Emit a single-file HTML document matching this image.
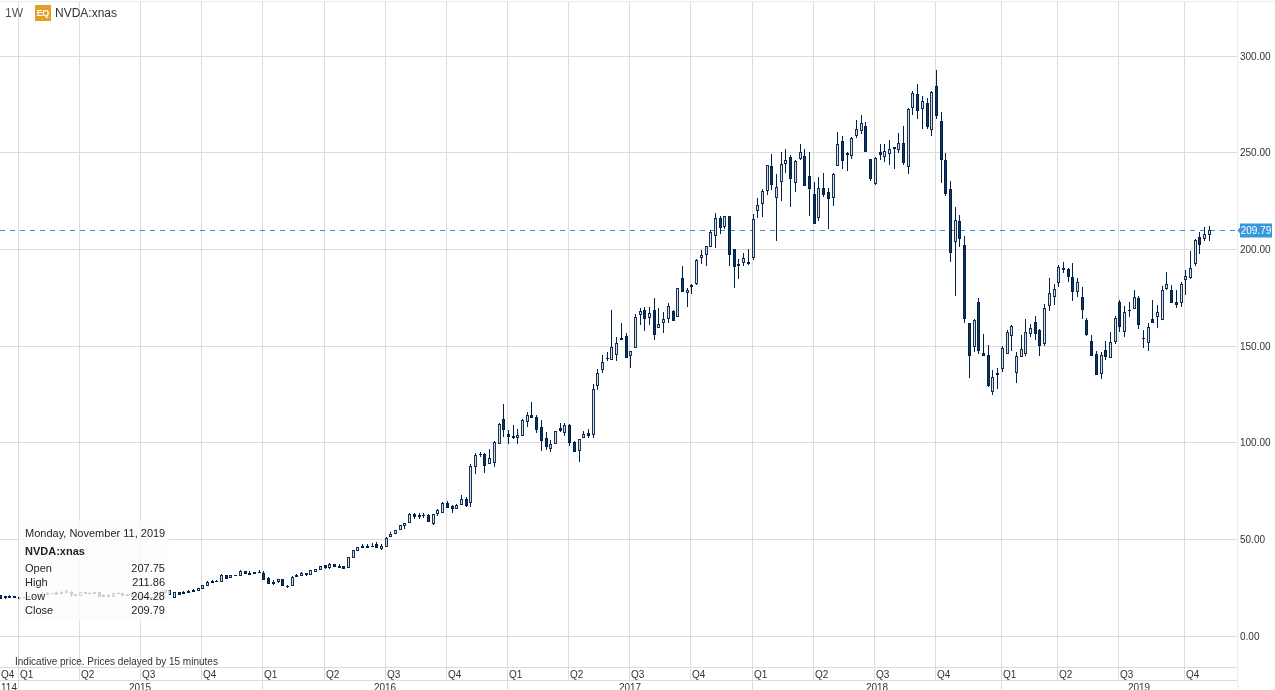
<!DOCTYPE html>
<html><head><meta charset="utf-8">
<style>
html,body{margin:0;padding:0;background:#fff;}
.ax,.ya,.lg,.bt{will-change:transform;}
body{width:1275px;height:690px;position:relative;overflow:hidden;font-family:"Liberation Sans",sans-serif;}
svg{position:absolute;left:0;top:0;shape-rendering:crispEdges;}
.ax{position:absolute;font-size:10px;line-height:13px;color:#333;white-space:nowrap;}
.yr{width:60px;text-align:center;}
.ya{position:absolute;left:1240px;font-size:10px;line-height:12px;color:#333;white-space:nowrap;}
.lg{position:absolute;white-space:nowrap;}
.box{position:absolute;left:19px;top:520px;width:150px;height:101px;background:rgba(253,253,253,0.8);}
.bt{position:absolute;font-size:11px;line-height:13px;color:#222;white-space:nowrap;text-shadow:0 0 2px #fff,0 0 2px #fff;}
.r{text-align:right;width:60px;}
</style></head><body>
<svg width="1275" height="690" viewBox="0 0 1275 690">
<rect x="0" y="1" width="1275" height="1" fill="#ebebeb"/>
<rect x="0" y="56" width="1237" height="1" fill="#dcdcdc"/>
<rect x="0" y="152" width="1237" height="1" fill="#dcdcdc"/>
<rect x="0" y="249" width="1237" height="1" fill="#dcdcdc"/>
<rect x="0" y="346" width="1237" height="1" fill="#dcdcdc"/>
<rect x="0" y="442" width="1237" height="1" fill="#dcdcdc"/>
<rect x="0" y="539" width="1237" height="1" fill="#dcdcdc"/>
<rect x="0" y="636" width="1237" height="1" fill="#dcdcdc"/>
<rect x="18" y="2" width="1" height="678" fill="#dcdcdc"/>
<rect x="79" y="2" width="1" height="678" fill="#dcdcdc"/>
<rect x="140" y="2" width="1" height="678" fill="#dcdcdc"/>
<rect x="201" y="2" width="1" height="678" fill="#dcdcdc"/>
<rect x="262" y="2" width="1" height="678" fill="#dcdcdc"/>
<rect x="324" y="2" width="1" height="678" fill="#dcdcdc"/>
<rect x="385" y="2" width="1" height="678" fill="#dcdcdc"/>
<rect x="446" y="2" width="1" height="678" fill="#dcdcdc"/>
<rect x="507" y="2" width="1" height="678" fill="#dcdcdc"/>
<rect x="568" y="2" width="1" height="678" fill="#dcdcdc"/>
<rect x="629" y="2" width="1" height="678" fill="#dcdcdc"/>
<rect x="690" y="2" width="1" height="678" fill="#dcdcdc"/>
<rect x="752" y="2" width="1" height="678" fill="#dcdcdc"/>
<rect x="813" y="2" width="1" height="678" fill="#dcdcdc"/>
<rect x="874" y="2" width="1" height="678" fill="#dcdcdc"/>
<rect x="935" y="2" width="1" height="678" fill="#dcdcdc"/>
<rect x="1001" y="2" width="1" height="678" fill="#dcdcdc"/>
<rect x="1057" y="2" width="1" height="678" fill="#dcdcdc"/>
<rect x="1118" y="2" width="1" height="678" fill="#dcdcdc"/>
<rect x="1184" y="2" width="1" height="678" fill="#dcdcdc"/>
<rect x="18" y="680" width="1" height="10" fill="#dcdcdc"/>
<rect x="262" y="680" width="1" height="10" fill="#dcdcdc"/>
<rect x="507" y="680" width="1" height="10" fill="#dcdcdc"/>
<rect x="752" y="680" width="1" height="10" fill="#dcdcdc"/>
<rect x="1001" y="680" width="1" height="10" fill="#dcdcdc"/>
<rect x="0" y="667" width="1237" height="1" fill="#dcdcdc"/>
<rect x="0" y="680" width="1237" height="1" fill="#dcdcdc"/>
<rect x="1237" y="2" width="1" height="688" fill="#ececec"/>
<rect x="0" y="230" width="5" height="1" fill="#2b91d9"/>
<rect x="10" y="230" width="5" height="1" fill="#2b91d9"/>
<rect x="20" y="230" width="5" height="1" fill="#2b91d9"/>
<rect x="30" y="230" width="5" height="1" fill="#2b91d9"/>
<rect x="40" y="230" width="5" height="1" fill="#2b91d9"/>
<rect x="50" y="230" width="5" height="1" fill="#2b91d9"/>
<rect x="60" y="230" width="5" height="1" fill="#2b91d9"/>
<rect x="70" y="230" width="5" height="1" fill="#2b91d9"/>
<rect x="80" y="230" width="5" height="1" fill="#2b91d9"/>
<rect x="90" y="230" width="5" height="1" fill="#2b91d9"/>
<rect x="100" y="230" width="5" height="1" fill="#2b91d9"/>
<rect x="110" y="230" width="5" height="1" fill="#2b91d9"/>
<rect x="120" y="230" width="5" height="1" fill="#2b91d9"/>
<rect x="130" y="230" width="5" height="1" fill="#2b91d9"/>
<rect x="140" y="230" width="5" height="1" fill="#2b91d9"/>
<rect x="150" y="230" width="5" height="1" fill="#2b91d9"/>
<rect x="160" y="230" width="5" height="1" fill="#2b91d9"/>
<rect x="170" y="230" width="5" height="1" fill="#2b91d9"/>
<rect x="180" y="230" width="5" height="1" fill="#2b91d9"/>
<rect x="190" y="230" width="5" height="1" fill="#2b91d9"/>
<rect x="200" y="230" width="5" height="1" fill="#2b91d9"/>
<rect x="210" y="230" width="5" height="1" fill="#2b91d9"/>
<rect x="220" y="230" width="5" height="1" fill="#2b91d9"/>
<rect x="230" y="230" width="5" height="1" fill="#2b91d9"/>
<rect x="240" y="230" width="5" height="1" fill="#2b91d9"/>
<rect x="250" y="230" width="5" height="1" fill="#2b91d9"/>
<rect x="260" y="230" width="5" height="1" fill="#2b91d9"/>
<rect x="270" y="230" width="5" height="1" fill="#2b91d9"/>
<rect x="280" y="230" width="5" height="1" fill="#2b91d9"/>
<rect x="290" y="230" width="5" height="1" fill="#2b91d9"/>
<rect x="300" y="230" width="5" height="1" fill="#2b91d9"/>
<rect x="310" y="230" width="5" height="1" fill="#2b91d9"/>
<rect x="320" y="230" width="5" height="1" fill="#2b91d9"/>
<rect x="330" y="230" width="5" height="1" fill="#2b91d9"/>
<rect x="340" y="230" width="5" height="1" fill="#2b91d9"/>
<rect x="350" y="230" width="5" height="1" fill="#2b91d9"/>
<rect x="360" y="230" width="5" height="1" fill="#2b91d9"/>
<rect x="370" y="230" width="5" height="1" fill="#2b91d9"/>
<rect x="380" y="230" width="5" height="1" fill="#2b91d9"/>
<rect x="390" y="230" width="5" height="1" fill="#2b91d9"/>
<rect x="400" y="230" width="5" height="1" fill="#2b91d9"/>
<rect x="410" y="230" width="5" height="1" fill="#2b91d9"/>
<rect x="420" y="230" width="5" height="1" fill="#2b91d9"/>
<rect x="430" y="230" width="5" height="1" fill="#2b91d9"/>
<rect x="440" y="230" width="5" height="1" fill="#2b91d9"/>
<rect x="450" y="230" width="5" height="1" fill="#2b91d9"/>
<rect x="460" y="230" width="5" height="1" fill="#2b91d9"/>
<rect x="470" y="230" width="5" height="1" fill="#2b91d9"/>
<rect x="480" y="230" width="5" height="1" fill="#2b91d9"/>
<rect x="490" y="230" width="5" height="1" fill="#2b91d9"/>
<rect x="500" y="230" width="5" height="1" fill="#2b91d9"/>
<rect x="510" y="230" width="5" height="1" fill="#2b91d9"/>
<rect x="520" y="230" width="5" height="1" fill="#2b91d9"/>
<rect x="530" y="230" width="5" height="1" fill="#2b91d9"/>
<rect x="540" y="230" width="5" height="1" fill="#2b91d9"/>
<rect x="550" y="230" width="5" height="1" fill="#2b91d9"/>
<rect x="560" y="230" width="5" height="1" fill="#2b91d9"/>
<rect x="570" y="230" width="5" height="1" fill="#2b91d9"/>
<rect x="580" y="230" width="5" height="1" fill="#2b91d9"/>
<rect x="590" y="230" width="5" height="1" fill="#2b91d9"/>
<rect x="600" y="230" width="5" height="1" fill="#2b91d9"/>
<rect x="610" y="230" width="5" height="1" fill="#2b91d9"/>
<rect x="620" y="230" width="5" height="1" fill="#2b91d9"/>
<rect x="630" y="230" width="5" height="1" fill="#2b91d9"/>
<rect x="640" y="230" width="5" height="1" fill="#2b91d9"/>
<rect x="650" y="230" width="5" height="1" fill="#2b91d9"/>
<rect x="660" y="230" width="5" height="1" fill="#2b91d9"/>
<rect x="670" y="230" width="5" height="1" fill="#2b91d9"/>
<rect x="680" y="230" width="5" height="1" fill="#2b91d9"/>
<rect x="690" y="230" width="5" height="1" fill="#2b91d9"/>
<rect x="700" y="230" width="5" height="1" fill="#2b91d9"/>
<rect x="710" y="230" width="5" height="1" fill="#2b91d9"/>
<rect x="720" y="230" width="5" height="1" fill="#2b91d9"/>
<rect x="730" y="230" width="5" height="1" fill="#2b91d9"/>
<rect x="740" y="230" width="5" height="1" fill="#2b91d9"/>
<rect x="750" y="230" width="5" height="1" fill="#2b91d9"/>
<rect x="760" y="230" width="5" height="1" fill="#2b91d9"/>
<rect x="770" y="230" width="5" height="1" fill="#2b91d9"/>
<rect x="780" y="230" width="5" height="1" fill="#2b91d9"/>
<rect x="790" y="230" width="5" height="1" fill="#2b91d9"/>
<rect x="800" y="230" width="5" height="1" fill="#2b91d9"/>
<rect x="810" y="230" width="5" height="1" fill="#2b91d9"/>
<rect x="820" y="230" width="5" height="1" fill="#2b91d9"/>
<rect x="830" y="230" width="5" height="1" fill="#2b91d9"/>
<rect x="840" y="230" width="5" height="1" fill="#2b91d9"/>
<rect x="850" y="230" width="5" height="1" fill="#2b91d9"/>
<rect x="860" y="230" width="5" height="1" fill="#2b91d9"/>
<rect x="870" y="230" width="5" height="1" fill="#2b91d9"/>
<rect x="880" y="230" width="5" height="1" fill="#2b91d9"/>
<rect x="890" y="230" width="5" height="1" fill="#2b91d9"/>
<rect x="900" y="230" width="5" height="1" fill="#2b91d9"/>
<rect x="910" y="230" width="5" height="1" fill="#2b91d9"/>
<rect x="920" y="230" width="5" height="1" fill="#2b91d9"/>
<rect x="930" y="230" width="5" height="1" fill="#2b91d9"/>
<rect x="940" y="230" width="5" height="1" fill="#2b91d9"/>
<rect x="950" y="230" width="5" height="1" fill="#2b91d9"/>
<rect x="960" y="230" width="5" height="1" fill="#2b91d9"/>
<rect x="970" y="230" width="5" height="1" fill="#2b91d9"/>
<rect x="980" y="230" width="5" height="1" fill="#2b91d9"/>
<rect x="990" y="230" width="5" height="1" fill="#2b91d9"/>
<rect x="1000" y="230" width="5" height="1" fill="#2b91d9"/>
<rect x="1010" y="230" width="5" height="1" fill="#2b91d9"/>
<rect x="1020" y="230" width="5" height="1" fill="#2b91d9"/>
<rect x="1030" y="230" width="5" height="1" fill="#2b91d9"/>
<rect x="1040" y="230" width="5" height="1" fill="#2b91d9"/>
<rect x="1050" y="230" width="5" height="1" fill="#2b91d9"/>
<rect x="1060" y="230" width="5" height="1" fill="#2b91d9"/>
<rect x="1070" y="230" width="5" height="1" fill="#2b91d9"/>
<rect x="1080" y="230" width="5" height="1" fill="#2b91d9"/>
<rect x="1090" y="230" width="5" height="1" fill="#2b91d9"/>
<rect x="1100" y="230" width="5" height="1" fill="#2b91d9"/>
<rect x="1110" y="230" width="5" height="1" fill="#2b91d9"/>
<rect x="1120" y="230" width="5" height="1" fill="#2b91d9"/>
<rect x="1130" y="230" width="5" height="1" fill="#2b91d9"/>
<rect x="1140" y="230" width="5" height="1" fill="#2b91d9"/>
<rect x="1150" y="230" width="5" height="1" fill="#2b91d9"/>
<rect x="1160" y="230" width="5" height="1" fill="#2b91d9"/>
<rect x="1170" y="230" width="5" height="1" fill="#2b91d9"/>
<rect x="1180" y="230" width="5" height="1" fill="#2b91d9"/>
<rect x="1190" y="230" width="5" height="1" fill="#2b91d9"/>
<rect x="1200" y="230" width="5" height="1" fill="#2b91d9"/>
<rect x="1210" y="230" width="5" height="1" fill="#2b91d9"/>
<rect x="1220" y="230" width="5" height="1" fill="#2b91d9"/>
<rect x="1230" y="230" width="5" height="1" fill="#2b91d9"/>
<rect x="0" y="595" width="1" height="4" fill="#002248"/>
<rect x="-1" y="595" width="3" height="4" fill="#002248"/>
<rect x="0" y="596" width="1" height="2" fill="#14335a"/>
<rect x="5" y="596" width="1" height="3" fill="#002248"/>
<rect x="4" y="596" width="3" height="2" fill="#002248"/>
<rect x="9" y="595" width="1" height="3" fill="#002248"/>
<rect x="8" y="596" width="3" height="2" fill="#002248"/>
<rect x="14" y="596" width="1" height="2" fill="#002248"/>
<rect x="13" y="596" width="3" height="2" fill="#002248"/>
<rect x="19" y="597" width="1" height="3" fill="#002248"/>
<rect x="18" y="597" width="3" height="2" fill="#002248"/>
<rect x="24" y="597" width="1" height="1" fill="#002248"/>
<rect x="23" y="597" width="3" height="1" fill="#002248"/>
<rect x="28" y="596" width="1" height="2" fill="#002248"/>
<rect x="27" y="596" width="3" height="2" fill="#002248"/>
<rect x="33" y="596" width="1" height="2" fill="#002248"/>
<rect x="32" y="597" width="3" height="1" fill="#002248"/>
<rect x="38" y="595" width="1" height="3" fill="#002248"/>
<rect x="37" y="595" width="3" height="2" fill="#002248"/>
<rect x="41" y="594" width="3" height="3" fill="#16345a"/>
<rect x="42" y="592" width="1" height="3" fill="#002248"/>
<rect x="42" y="596" width="1" height="2" fill="#002248"/>
<rect x="42" y="595" width="1" height="1" fill="#dadada"/>
<rect x="47" y="592" width="1" height="3" fill="#002248"/>
<rect x="46" y="593" width="3" height="2" fill="#002248"/>
<rect x="52" y="593" width="1" height="1" fill="#002248"/>
<rect x="51" y="593" width="3" height="1" fill="#002248"/>
<rect x="56" y="592" width="1" height="3" fill="#002248"/>
<rect x="55" y="592" width="3" height="3" fill="#002248"/>
<rect x="56" y="593" width="1" height="1" fill="#14335a"/>
<rect x="61" y="591" width="1" height="3" fill="#002248"/>
<rect x="60" y="592" width="3" height="2" fill="#002248"/>
<rect x="65" y="590" width="3" height="3" fill="#16345a"/>
<rect x="66" y="590" width="1" height="1" fill="#002248"/>
<rect x="66" y="592" width="1" height="1" fill="#002248"/>
<rect x="66" y="591" width="1" height="1" fill="#dadada"/>
<rect x="71" y="591" width="1" height="6" fill="#002248"/>
<rect x="70" y="592" width="3" height="3" fill="#002248"/>
<rect x="71" y="593" width="1" height="1" fill="#14335a"/>
<rect x="75" y="594" width="1" height="2" fill="#002248"/>
<rect x="74" y="594" width="3" height="2" fill="#002248"/>
<rect x="79" y="592" width="3" height="4" fill="#16345a"/>
<rect x="80" y="592" width="1" height="1" fill="#002248"/>
<rect x="80" y="595" width="1" height="1" fill="#002248"/>
<rect x="80" y="593" width="1" height="2" fill="#dadada"/>
<rect x="85" y="592" width="1" height="2" fill="#002248"/>
<rect x="84" y="592" width="3" height="2" fill="#002248"/>
<rect x="89" y="592" width="1" height="2" fill="#002248"/>
<rect x="88" y="593" width="3" height="1" fill="#002248"/>
<rect x="94" y="592" width="1" height="2" fill="#002248"/>
<rect x="93" y="592" width="3" height="2" fill="#002248"/>
<rect x="99" y="592" width="1" height="5" fill="#002248"/>
<rect x="98" y="592" width="3" height="5" fill="#002248"/>
<rect x="99" y="593" width="1" height="3" fill="#14335a"/>
<rect x="103" y="594" width="1" height="3" fill="#002248"/>
<rect x="102" y="595" width="3" height="2" fill="#002248"/>
<rect x="108" y="594" width="1" height="3" fill="#002248"/>
<rect x="107" y="595" width="3" height="2" fill="#002248"/>
<rect x="112" y="593" width="3" height="4" fill="#16345a"/>
<rect x="113" y="593" width="1" height="1" fill="#002248"/>
<rect x="113" y="596" width="1" height="1" fill="#002248"/>
<rect x="113" y="594" width="1" height="2" fill="#dadada"/>
<rect x="118" y="592" width="1" height="2" fill="#002248"/>
<rect x="117" y="593" width="3" height="1" fill="#002248"/>
<rect x="122" y="593" width="1" height="3" fill="#002248"/>
<rect x="121" y="593" width="3" height="3" fill="#002248"/>
<rect x="122" y="594" width="1" height="1" fill="#14335a"/>
<rect x="127" y="594" width="1" height="2" fill="#002248"/>
<rect x="126" y="594" width="3" height="2" fill="#002248"/>
<rect x="132" y="593" width="1" height="4" fill="#002248"/>
<rect x="131" y="593" width="3" height="4" fill="#002248"/>
<rect x="132" y="594" width="1" height="2" fill="#14335a"/>
<rect x="136" y="594" width="1" height="4" fill="#002248"/>
<rect x="135" y="595" width="3" height="3" fill="#002248"/>
<rect x="136" y="596" width="1" height="1" fill="#14335a"/>
<rect x="141" y="595" width="1" height="4" fill="#002248"/>
<rect x="140" y="596" width="3" height="3" fill="#002248"/>
<rect x="141" y="597" width="1" height="1" fill="#14335a"/>
<rect x="146" y="596" width="1" height="4" fill="#002248"/>
<rect x="145" y="597" width="3" height="2" fill="#002248"/>
<rect x="151" y="597" width="1" height="3" fill="#002248"/>
<rect x="150" y="597" width="3" height="3" fill="#002248"/>
<rect x="151" y="598" width="1" height="1" fill="#14335a"/>
<rect x="154" y="595" width="3" height="3" fill="#16345a"/>
<rect x="155" y="594" width="1" height="2" fill="#002248"/>
<rect x="155" y="597" width="1" height="2" fill="#002248"/>
<rect x="155" y="596" width="1" height="1" fill="#dadada"/>
<rect x="159" y="592" width="3" height="5" fill="#16345a"/>
<rect x="160" y="591" width="1" height="2" fill="#002248"/>
<rect x="160" y="596" width="1" height="2" fill="#002248"/>
<rect x="160" y="593" width="1" height="3" fill="#dadada"/>
<rect x="164" y="590" width="3" height="3" fill="#16345a"/>
<rect x="165" y="590" width="1" height="1" fill="#002248"/>
<rect x="165" y="592" width="1" height="1" fill="#002248"/>
<rect x="165" y="591" width="1" height="1" fill="#dadada"/>
<rect x="168" y="590" width="3" height="5" fill="#16345a"/>
<rect x="169" y="590" width="1" height="1" fill="#002248"/>
<rect x="169" y="594" width="1" height="1" fill="#002248"/>
<rect x="169" y="591" width="1" height="3" fill="#dadada"/>
<rect x="173" y="592" width="3" height="6" fill="#16345a"/>
<rect x="174" y="592" width="1" height="1" fill="#002248"/>
<rect x="174" y="597" width="1" height="1" fill="#002248"/>
<rect x="174" y="593" width="1" height="4" fill="#dadada"/>
<rect x="179" y="592" width="1" height="3" fill="#002248"/>
<rect x="178" y="592" width="3" height="3" fill="#002248"/>
<rect x="179" y="593" width="1" height="1" fill="#14335a"/>
<rect x="183" y="591" width="1" height="3" fill="#002248"/>
<rect x="182" y="592" width="3" height="2" fill="#002248"/>
<rect x="188" y="590" width="1" height="3" fill="#002248"/>
<rect x="187" y="591" width="3" height="2" fill="#002248"/>
<rect x="193" y="589" width="1" height="3" fill="#002248"/>
<rect x="192" y="590" width="3" height="2" fill="#002248"/>
<rect x="197" y="588" width="3" height="3" fill="#16345a"/>
<rect x="198" y="588" width="1" height="1" fill="#002248"/>
<rect x="198" y="590" width="1" height="1" fill="#002248"/>
<rect x="198" y="589" width="1" height="1" fill="#dadada"/>
<rect x="201" y="585" width="3" height="4" fill="#16345a"/>
<rect x="202" y="585" width="1" height="1" fill="#002248"/>
<rect x="202" y="588" width="1" height="1" fill="#002248"/>
<rect x="202" y="586" width="1" height="2" fill="#dadada"/>
<rect x="206" y="582" width="3" height="4" fill="#16345a"/>
<rect x="207" y="581" width="1" height="2" fill="#002248"/>
<rect x="207" y="585" width="1" height="1" fill="#002248"/>
<rect x="207" y="583" width="1" height="2" fill="#dadada"/>
<rect x="212" y="580" width="1" height="3" fill="#002248"/>
<rect x="211" y="581" width="3" height="2" fill="#002248"/>
<rect x="216" y="580" width="1" height="2" fill="#002248"/>
<rect x="215" y="581" width="3" height="1" fill="#002248"/>
<rect x="220" y="575" width="3" height="7" fill="#16345a"/>
<rect x="221" y="574" width="1" height="2" fill="#002248"/>
<rect x="221" y="581" width="1" height="1" fill="#002248"/>
<rect x="221" y="576" width="1" height="5" fill="#dadada"/>
<rect x="226" y="575" width="1" height="4" fill="#002248"/>
<rect x="225" y="575" width="3" height="4" fill="#002248"/>
<rect x="226" y="576" width="1" height="2" fill="#14335a"/>
<rect x="229" y="575" width="3" height="3" fill="#16345a"/>
<rect x="230" y="575" width="1" height="1" fill="#002248"/>
<rect x="230" y="577" width="1" height="1" fill="#002248"/>
<rect x="230" y="576" width="1" height="1" fill="#dadada"/>
<rect x="235" y="575" width="1" height="1" fill="#002248"/>
<rect x="234" y="575" width="3" height="1" fill="#002248"/>
<rect x="239" y="571" width="3" height="5" fill="#16345a"/>
<rect x="240" y="570" width="1" height="2" fill="#002248"/>
<rect x="240" y="575" width="1" height="1" fill="#002248"/>
<rect x="240" y="572" width="1" height="3" fill="#dadada"/>
<rect x="245" y="571" width="1" height="3" fill="#002248"/>
<rect x="244" y="571" width="3" height="3" fill="#002248"/>
<rect x="245" y="572" width="1" height="1" fill="#14335a"/>
<rect x="249" y="571" width="1" height="4" fill="#002248"/>
<rect x="248" y="573" width="3" height="2" fill="#002248"/>
<rect x="254" y="572" width="1" height="2" fill="#002248"/>
<rect x="253" y="572" width="3" height="2" fill="#002248"/>
<rect x="259" y="570" width="1" height="3" fill="#002248"/>
<rect x="258" y="572" width="3" height="1" fill="#002248"/>
<rect x="263" y="571" width="1" height="9" fill="#002248"/>
<rect x="262" y="573" width="3" height="7" fill="#002248"/>
<rect x="263" y="574" width="1" height="5" fill="#14335a"/>
<rect x="268" y="577" width="1" height="7" fill="#002248"/>
<rect x="267" y="578" width="3" height="6" fill="#002248"/>
<rect x="268" y="579" width="1" height="4" fill="#14335a"/>
<rect x="273" y="580" width="1" height="5" fill="#002248"/>
<rect x="272" y="582" width="3" height="2" fill="#002248"/>
<rect x="277" y="579" width="3" height="3" fill="#16345a"/>
<rect x="278" y="579" width="1" height="1" fill="#002248"/>
<rect x="278" y="581" width="1" height="2" fill="#002248"/>
<rect x="278" y="580" width="1" height="1" fill="#dadada"/>
<rect x="282" y="579" width="1" height="7" fill="#002248"/>
<rect x="281" y="579" width="3" height="7" fill="#002248"/>
<rect x="282" y="580" width="1" height="5" fill="#14335a"/>
<rect x="287" y="585" width="1" height="3" fill="#002248"/>
<rect x="286" y="586" width="3" height="1" fill="#002248"/>
<rect x="291" y="577" width="3" height="9" fill="#16345a"/>
<rect x="292" y="576" width="1" height="2" fill="#002248"/>
<rect x="292" y="585" width="1" height="1" fill="#002248"/>
<rect x="292" y="578" width="1" height="7" fill="#dadada"/>
<rect x="296" y="574" width="1" height="3" fill="#002248"/>
<rect x="295" y="575" width="3" height="2" fill="#002248"/>
<rect x="300" y="573" width="3" height="3" fill="#16345a"/>
<rect x="301" y="572" width="1" height="2" fill="#002248"/>
<rect x="301" y="575" width="1" height="1" fill="#002248"/>
<rect x="301" y="574" width="1" height="1" fill="#dadada"/>
<rect x="306" y="573" width="1" height="3" fill="#002248"/>
<rect x="305" y="573" width="3" height="2" fill="#002248"/>
<rect x="309" y="570" width="3" height="5" fill="#16345a"/>
<rect x="310" y="570" width="1" height="1" fill="#002248"/>
<rect x="310" y="574" width="1" height="1" fill="#002248"/>
<rect x="310" y="571" width="1" height="3" fill="#dadada"/>
<rect x="314" y="569" width="3" height="3" fill="#16345a"/>
<rect x="315" y="569" width="1" height="1" fill="#002248"/>
<rect x="315" y="571" width="1" height="1" fill="#002248"/>
<rect x="315" y="570" width="1" height="1" fill="#dadada"/>
<rect x="319" y="566" width="3" height="4" fill="#16345a"/>
<rect x="320" y="566" width="1" height="1" fill="#002248"/>
<rect x="320" y="569" width="1" height="1" fill="#002248"/>
<rect x="320" y="567" width="1" height="2" fill="#dadada"/>
<rect x="325" y="565" width="1" height="4" fill="#002248"/>
<rect x="324" y="565" width="3" height="3" fill="#002248"/>
<rect x="325" y="566" width="1" height="1" fill="#14335a"/>
<rect x="328" y="564" width="3" height="4" fill="#16345a"/>
<rect x="329" y="563" width="1" height="2" fill="#002248"/>
<rect x="329" y="567" width="1" height="2" fill="#002248"/>
<rect x="329" y="565" width="1" height="2" fill="#dadada"/>
<rect x="334" y="564" width="1" height="3" fill="#002248"/>
<rect x="333" y="564" width="3" height="3" fill="#002248"/>
<rect x="334" y="565" width="1" height="1" fill="#14335a"/>
<rect x="339" y="564" width="1" height="4" fill="#002248"/>
<rect x="338" y="566" width="3" height="2" fill="#002248"/>
<rect x="343" y="566" width="1" height="3" fill="#002248"/>
<rect x="342" y="566" width="3" height="3" fill="#002248"/>
<rect x="343" y="567" width="1" height="1" fill="#14335a"/>
<rect x="347" y="557" width="3" height="11" fill="#16345a"/>
<rect x="348" y="557" width="1" height="1" fill="#002248"/>
<rect x="348" y="567" width="1" height="1" fill="#002248"/>
<rect x="348" y="558" width="1" height="9" fill="#dadada"/>
<rect x="352" y="550" width="3" height="8" fill="#16345a"/>
<rect x="353" y="550" width="1" height="1" fill="#002248"/>
<rect x="353" y="557" width="1" height="1" fill="#002248"/>
<rect x="353" y="551" width="1" height="6" fill="#dadada"/>
<rect x="356" y="547" width="3" height="4" fill="#16345a"/>
<rect x="357" y="547" width="1" height="1" fill="#002248"/>
<rect x="357" y="550" width="1" height="1" fill="#002248"/>
<rect x="357" y="548" width="1" height="2" fill="#dadada"/>
<rect x="362" y="544" width="1" height="4" fill="#002248"/>
<rect x="361" y="546" width="3" height="2" fill="#002248"/>
<rect x="367" y="544" width="1" height="4" fill="#002248"/>
<rect x="366" y="546" width="3" height="2" fill="#002248"/>
<rect x="372" y="543" width="1" height="4" fill="#002248"/>
<rect x="371" y="546" width="3" height="1" fill="#002248"/>
<rect x="376" y="542" width="1" height="6" fill="#002248"/>
<rect x="375" y="544" width="3" height="4" fill="#002248"/>
<rect x="376" y="545" width="1" height="2" fill="#14335a"/>
<rect x="380" y="546" width="3" height="3" fill="#16345a"/>
<rect x="381" y="544" width="1" height="3" fill="#002248"/>
<rect x="381" y="548" width="1" height="2" fill="#002248"/>
<rect x="381" y="547" width="1" height="1" fill="#dadada"/>
<rect x="385" y="538" width="3" height="9" fill="#16345a"/>
<rect x="386" y="537" width="1" height="2" fill="#002248"/>
<rect x="386" y="546" width="1" height="1" fill="#002248"/>
<rect x="386" y="539" width="1" height="7" fill="#dadada"/>
<rect x="389" y="534" width="3" height="3" fill="#16345a"/>
<rect x="390" y="532" width="1" height="3" fill="#002248"/>
<rect x="390" y="536" width="1" height="1" fill="#002248"/>
<rect x="390" y="535" width="1" height="1" fill="#dadada"/>
<rect x="394" y="530" width="3" height="4" fill="#16345a"/>
<rect x="395" y="530" width="1" height="1" fill="#002248"/>
<rect x="395" y="533" width="1" height="1" fill="#002248"/>
<rect x="395" y="531" width="1" height="2" fill="#dadada"/>
<rect x="399" y="525" width="3" height="5" fill="#16345a"/>
<rect x="400" y="525" width="1" height="1" fill="#002248"/>
<rect x="400" y="529" width="1" height="1" fill="#002248"/>
<rect x="400" y="526" width="1" height="3" fill="#dadada"/>
<rect x="403" y="523" width="3" height="3" fill="#16345a"/>
<rect x="404" y="523" width="1" height="1" fill="#002248"/>
<rect x="404" y="525" width="1" height="4" fill="#002248"/>
<rect x="404" y="524" width="1" height="1" fill="#dadada"/>
<rect x="408" y="514" width="3" height="9" fill="#16345a"/>
<rect x="409" y="513" width="1" height="2" fill="#002248"/>
<rect x="409" y="522" width="1" height="1" fill="#002248"/>
<rect x="409" y="515" width="1" height="7" fill="#dadada"/>
<rect x="414" y="513" width="1" height="6" fill="#002248"/>
<rect x="413" y="514" width="3" height="3" fill="#002248"/>
<rect x="414" y="515" width="1" height="1" fill="#14335a"/>
<rect x="419" y="513" width="1" height="6" fill="#002248"/>
<rect x="418" y="515" width="3" height="2" fill="#002248"/>
<rect x="423" y="513" width="1" height="5" fill="#002248"/>
<rect x="422" y="515" width="3" height="1" fill="#002248"/>
<rect x="428" y="514" width="1" height="8" fill="#002248"/>
<rect x="427" y="515" width="3" height="7" fill="#002248"/>
<rect x="428" y="516" width="1" height="5" fill="#14335a"/>
<rect x="432" y="514" width="3" height="10" fill="#16345a"/>
<rect x="433" y="514" width="1" height="1" fill="#002248"/>
<rect x="433" y="523" width="1" height="2" fill="#002248"/>
<rect x="433" y="515" width="1" height="8" fill="#dadada"/>
<rect x="436" y="510" width="3" height="4" fill="#16345a"/>
<rect x="437" y="509" width="1" height="2" fill="#002248"/>
<rect x="437" y="513" width="1" height="3" fill="#002248"/>
<rect x="437" y="511" width="1" height="2" fill="#dadada"/>
<rect x="441" y="503" width="3" height="10" fill="#16345a"/>
<rect x="442" y="502" width="1" height="2" fill="#002248"/>
<rect x="442" y="512" width="1" height="1" fill="#002248"/>
<rect x="442" y="504" width="1" height="8" fill="#dadada"/>
<rect x="447" y="501" width="1" height="7" fill="#002248"/>
<rect x="446" y="503" width="3" height="5" fill="#002248"/>
<rect x="447" y="504" width="1" height="3" fill="#14335a"/>
<rect x="452" y="505" width="1" height="8" fill="#002248"/>
<rect x="451" y="506" width="3" height="3" fill="#002248"/>
<rect x="452" y="507" width="1" height="1" fill="#14335a"/>
<rect x="455" y="505" width="3" height="4" fill="#16345a"/>
<rect x="456" y="504" width="1" height="2" fill="#002248"/>
<rect x="456" y="508" width="1" height="1" fill="#002248"/>
<rect x="456" y="506" width="1" height="2" fill="#dadada"/>
<rect x="460" y="499" width="3" height="6" fill="#16345a"/>
<rect x="461" y="495" width="1" height="5" fill="#002248"/>
<rect x="461" y="504" width="1" height="1" fill="#002248"/>
<rect x="461" y="500" width="1" height="4" fill="#dadada"/>
<rect x="466" y="497" width="1" height="10" fill="#002248"/>
<rect x="465" y="499" width="3" height="7" fill="#002248"/>
<rect x="466" y="500" width="1" height="5" fill="#14335a"/>
<rect x="469" y="466" width="3" height="37" fill="#16345a"/>
<rect x="470" y="464" width="1" height="3" fill="#002248"/>
<rect x="470" y="502" width="1" height="5" fill="#002248"/>
<rect x="470" y="467" width="1" height="35" fill="#dadada"/>
<rect x="474" y="455" width="3" height="12" fill="#16345a"/>
<rect x="475" y="453" width="1" height="3" fill="#002248"/>
<rect x="475" y="466" width="1" height="8" fill="#002248"/>
<rect x="475" y="456" width="1" height="10" fill="#dadada"/>
<rect x="480" y="452" width="1" height="5" fill="#002248"/>
<rect x="479" y="454" width="3" height="1" fill="#002248"/>
<rect x="484" y="453" width="1" height="20" fill="#002248"/>
<rect x="483" y="454" width="3" height="12" fill="#002248"/>
<rect x="484" y="455" width="1" height="10" fill="#14335a"/>
<rect x="488" y="458" width="3" height="6" fill="#16345a"/>
<rect x="489" y="449" width="1" height="10" fill="#002248"/>
<rect x="489" y="463" width="1" height="1" fill="#002248"/>
<rect x="489" y="459" width="1" height="4" fill="#dadada"/>
<rect x="493" y="442" width="3" height="21" fill="#16345a"/>
<rect x="494" y="441" width="1" height="2" fill="#002248"/>
<rect x="494" y="462" width="1" height="5" fill="#002248"/>
<rect x="494" y="443" width="1" height="19" fill="#dadada"/>
<rect x="498" y="424" width="3" height="20" fill="#16345a"/>
<rect x="499" y="423" width="1" height="2" fill="#002248"/>
<rect x="499" y="443" width="1" height="1" fill="#002248"/>
<rect x="499" y="425" width="1" height="18" fill="#dadada"/>
<rect x="503" y="404" width="1" height="33" fill="#002248"/>
<rect x="502" y="419" width="3" height="11" fill="#002248"/>
<rect x="503" y="420" width="1" height="9" fill="#14335a"/>
<rect x="508" y="430" width="1" height="14" fill="#002248"/>
<rect x="507" y="434" width="3" height="3" fill="#002248"/>
<rect x="508" y="435" width="1" height="1" fill="#14335a"/>
<rect x="513" y="425" width="1" height="14" fill="#002248"/>
<rect x="512" y="436" width="3" height="2" fill="#002248"/>
<rect x="516" y="435" width="3" height="3" fill="#16345a"/>
<rect x="517" y="429" width="1" height="7" fill="#002248"/>
<rect x="517" y="437" width="1" height="7" fill="#002248"/>
<rect x="517" y="436" width="1" height="1" fill="#dadada"/>
<rect x="521" y="420" width="3" height="16" fill="#16345a"/>
<rect x="522" y="419" width="1" height="2" fill="#002248"/>
<rect x="522" y="435" width="1" height="1" fill="#002248"/>
<rect x="522" y="421" width="1" height="14" fill="#dadada"/>
<rect x="526" y="415" width="3" height="7" fill="#16345a"/>
<rect x="527" y="412" width="1" height="4" fill="#002248"/>
<rect x="527" y="421" width="1" height="6" fill="#002248"/>
<rect x="527" y="416" width="1" height="5" fill="#dadada"/>
<rect x="531" y="402" width="1" height="16" fill="#002248"/>
<rect x="530" y="415" width="3" height="3" fill="#002248"/>
<rect x="531" y="416" width="1" height="1" fill="#14335a"/>
<rect x="536" y="415" width="1" height="18" fill="#002248"/>
<rect x="535" y="417" width="3" height="13" fill="#002248"/>
<rect x="536" y="418" width="1" height="11" fill="#14335a"/>
<rect x="541" y="420" width="1" height="31" fill="#002248"/>
<rect x="540" y="427" width="3" height="14" fill="#002248"/>
<rect x="541" y="428" width="1" height="12" fill="#14335a"/>
<rect x="546" y="432" width="1" height="18" fill="#002248"/>
<rect x="545" y="438" width="3" height="9" fill="#002248"/>
<rect x="546" y="439" width="1" height="7" fill="#14335a"/>
<rect x="549" y="444" width="3" height="5" fill="#16345a"/>
<rect x="550" y="440" width="1" height="5" fill="#002248"/>
<rect x="550" y="448" width="1" height="4" fill="#002248"/>
<rect x="550" y="445" width="1" height="3" fill="#dadada"/>
<rect x="554" y="431" width="3" height="13" fill="#16345a"/>
<rect x="555" y="431" width="1" height="1" fill="#002248"/>
<rect x="555" y="443" width="1" height="1" fill="#002248"/>
<rect x="555" y="432" width="1" height="11" fill="#dadada"/>
<rect x="560" y="423" width="1" height="9" fill="#002248"/>
<rect x="559" y="428" width="3" height="3" fill="#002248"/>
<rect x="560" y="429" width="1" height="1" fill="#14335a"/>
<rect x="563" y="425" width="3" height="8" fill="#16345a"/>
<rect x="564" y="423" width="1" height="3" fill="#002248"/>
<rect x="564" y="432" width="1" height="4" fill="#002248"/>
<rect x="564" y="426" width="1" height="6" fill="#dadada"/>
<rect x="569" y="424" width="1" height="22" fill="#002248"/>
<rect x="568" y="425" width="3" height="18" fill="#002248"/>
<rect x="569" y="426" width="1" height="16" fill="#14335a"/>
<rect x="574" y="441" width="1" height="11" fill="#002248"/>
<rect x="573" y="442" width="3" height="10" fill="#002248"/>
<rect x="574" y="443" width="1" height="8" fill="#14335a"/>
<rect x="578" y="439" width="3" height="12" fill="#16345a"/>
<rect x="579" y="439" width="1" height="1" fill="#002248"/>
<rect x="579" y="450" width="1" height="12" fill="#002248"/>
<rect x="579" y="440" width="1" height="10" fill="#dadada"/>
<rect x="582" y="434" width="3" height="4" fill="#16345a"/>
<rect x="583" y="431" width="1" height="4" fill="#002248"/>
<rect x="583" y="437" width="1" height="1" fill="#002248"/>
<rect x="583" y="435" width="1" height="2" fill="#dadada"/>
<rect x="588" y="429" width="1" height="9" fill="#002248"/>
<rect x="587" y="433" width="3" height="3" fill="#002248"/>
<rect x="588" y="434" width="1" height="1" fill="#14335a"/>
<rect x="592" y="389" width="3" height="46" fill="#16345a"/>
<rect x="593" y="384" width="1" height="6" fill="#002248"/>
<rect x="593" y="434" width="1" height="4" fill="#002248"/>
<rect x="593" y="390" width="1" height="44" fill="#dadada"/>
<rect x="596" y="373" width="3" height="13" fill="#16345a"/>
<rect x="597" y="369" width="1" height="5" fill="#002248"/>
<rect x="597" y="385" width="1" height="5" fill="#002248"/>
<rect x="597" y="374" width="1" height="11" fill="#dadada"/>
<rect x="601" y="362" width="3" height="8" fill="#16345a"/>
<rect x="602" y="355" width="1" height="8" fill="#002248"/>
<rect x="602" y="369" width="1" height="4" fill="#002248"/>
<rect x="602" y="363" width="1" height="6" fill="#dadada"/>
<rect x="607" y="352" width="1" height="9" fill="#002248"/>
<rect x="606" y="358" width="3" height="1" fill="#002248"/>
<rect x="610" y="347" width="3" height="13" fill="#16345a"/>
<rect x="611" y="310" width="1" height="38" fill="#002248"/>
<rect x="611" y="359" width="1" height="1" fill="#002248"/>
<rect x="611" y="348" width="1" height="11" fill="#dadada"/>
<rect x="615" y="343" width="3" height="12" fill="#16345a"/>
<rect x="616" y="337" width="1" height="7" fill="#002248"/>
<rect x="616" y="354" width="1" height="7" fill="#002248"/>
<rect x="616" y="344" width="1" height="10" fill="#dadada"/>
<rect x="621" y="323" width="1" height="17" fill="#002248"/>
<rect x="620" y="338" width="3" height="2" fill="#002248"/>
<rect x="626" y="333" width="1" height="25" fill="#002248"/>
<rect x="625" y="336" width="3" height="22" fill="#002248"/>
<rect x="626" y="337" width="1" height="20" fill="#14335a"/>
<rect x="629" y="351" width="3" height="5" fill="#16345a"/>
<rect x="630" y="351" width="1" height="1" fill="#002248"/>
<rect x="630" y="355" width="1" height="13" fill="#002248"/>
<rect x="630" y="352" width="1" height="3" fill="#dadada"/>
<rect x="634" y="317" width="3" height="31" fill="#16345a"/>
<rect x="635" y="314" width="1" height="4" fill="#002248"/>
<rect x="635" y="347" width="1" height="1" fill="#002248"/>
<rect x="635" y="318" width="1" height="29" fill="#dadada"/>
<rect x="639" y="311" width="3" height="4" fill="#16345a"/>
<rect x="640" y="308" width="1" height="4" fill="#002248"/>
<rect x="640" y="314" width="1" height="11" fill="#002248"/>
<rect x="640" y="312" width="1" height="2" fill="#dadada"/>
<rect x="644" y="307" width="1" height="24" fill="#002248"/>
<rect x="643" y="310" width="3" height="9" fill="#002248"/>
<rect x="644" y="311" width="1" height="7" fill="#14335a"/>
<rect x="648" y="313" width="3" height="5" fill="#16345a"/>
<rect x="649" y="307" width="1" height="7" fill="#002248"/>
<rect x="649" y="317" width="1" height="8" fill="#002248"/>
<rect x="649" y="314" width="1" height="3" fill="#dadada"/>
<rect x="654" y="298" width="1" height="42" fill="#002248"/>
<rect x="653" y="310" width="3" height="25" fill="#002248"/>
<rect x="654" y="311" width="1" height="23" fill="#14335a"/>
<rect x="657" y="324" width="3" height="4" fill="#16345a"/>
<rect x="658" y="308" width="1" height="17" fill="#002248"/>
<rect x="658" y="327" width="1" height="1" fill="#002248"/>
<rect x="658" y="325" width="1" height="2" fill="#dadada"/>
<rect x="662" y="319" width="3" height="4" fill="#16345a"/>
<rect x="663" y="312" width="1" height="8" fill="#002248"/>
<rect x="663" y="322" width="1" height="11" fill="#002248"/>
<rect x="663" y="320" width="1" height="2" fill="#dadada"/>
<rect x="667" y="306" width="3" height="13" fill="#16345a"/>
<rect x="668" y="303" width="1" height="4" fill="#002248"/>
<rect x="668" y="318" width="1" height="5" fill="#002248"/>
<rect x="668" y="307" width="1" height="11" fill="#dadada"/>
<rect x="673" y="310" width="1" height="11" fill="#002248"/>
<rect x="672" y="311" width="3" height="10" fill="#002248"/>
<rect x="673" y="312" width="1" height="8" fill="#14335a"/>
<rect x="676" y="288" width="3" height="29" fill="#16345a"/>
<rect x="677" y="288" width="1" height="1" fill="#002248"/>
<rect x="677" y="316" width="1" height="1" fill="#002248"/>
<rect x="677" y="289" width="1" height="27" fill="#dadada"/>
<rect x="682" y="266" width="1" height="26" fill="#002248"/>
<rect x="681" y="278" width="3" height="14" fill="#002248"/>
<rect x="682" y="279" width="1" height="12" fill="#14335a"/>
<rect x="686" y="290" width="3" height="3" fill="#16345a"/>
<rect x="687" y="288" width="1" height="3" fill="#002248"/>
<rect x="687" y="292" width="1" height="15" fill="#002248"/>
<rect x="687" y="291" width="1" height="1" fill="#dadada"/>
<rect x="691" y="284" width="1" height="10" fill="#002248"/>
<rect x="690" y="285" width="3" height="2" fill="#002248"/>
<rect x="695" y="260" width="3" height="24" fill="#16345a"/>
<rect x="696" y="259" width="1" height="2" fill="#002248"/>
<rect x="696" y="283" width="1" height="2" fill="#002248"/>
<rect x="696" y="261" width="1" height="22" fill="#dadada"/>
<rect x="700" y="255" width="3" height="3" fill="#16345a"/>
<rect x="701" y="250" width="1" height="6" fill="#002248"/>
<rect x="701" y="257" width="1" height="7" fill="#002248"/>
<rect x="701" y="256" width="1" height="1" fill="#dadada"/>
<rect x="705" y="246" width="3" height="9" fill="#16345a"/>
<rect x="706" y="246" width="1" height="1" fill="#002248"/>
<rect x="706" y="254" width="1" height="12" fill="#002248"/>
<rect x="706" y="247" width="1" height="7" fill="#dadada"/>
<rect x="709" y="232" width="3" height="15" fill="#16345a"/>
<rect x="710" y="230" width="1" height="3" fill="#002248"/>
<rect x="710" y="246" width="1" height="1" fill="#002248"/>
<rect x="710" y="233" width="1" height="13" fill="#dadada"/>
<rect x="714" y="218" width="3" height="18" fill="#16345a"/>
<rect x="715" y="213" width="1" height="6" fill="#002248"/>
<rect x="715" y="235" width="1" height="13" fill="#002248"/>
<rect x="715" y="219" width="1" height="16" fill="#dadada"/>
<rect x="720" y="216" width="1" height="18" fill="#002248"/>
<rect x="719" y="218" width="3" height="10" fill="#002248"/>
<rect x="720" y="219" width="1" height="8" fill="#14335a"/>
<rect x="723" y="216" width="3" height="11" fill="#16345a"/>
<rect x="724" y="216" width="1" height="1" fill="#002248"/>
<rect x="724" y="226" width="1" height="3" fill="#002248"/>
<rect x="724" y="217" width="1" height="9" fill="#dadada"/>
<rect x="729" y="216" width="1" height="50" fill="#002248"/>
<rect x="728" y="216" width="3" height="39" fill="#002248"/>
<rect x="729" y="217" width="1" height="37" fill="#14335a"/>
<rect x="734" y="249" width="1" height="39" fill="#002248"/>
<rect x="733" y="249" width="3" height="18" fill="#002248"/>
<rect x="734" y="250" width="1" height="16" fill="#14335a"/>
<rect x="738" y="259" width="1" height="20" fill="#002248"/>
<rect x="737" y="264" width="3" height="2" fill="#002248"/>
<rect x="742" y="258" width="3" height="5" fill="#16345a"/>
<rect x="743" y="253" width="1" height="6" fill="#002248"/>
<rect x="743" y="262" width="1" height="4" fill="#002248"/>
<rect x="743" y="259" width="1" height="3" fill="#dadada"/>
<rect x="748" y="249" width="1" height="16" fill="#002248"/>
<rect x="747" y="262" width="3" height="2" fill="#002248"/>
<rect x="752" y="219" width="3" height="39" fill="#16345a"/>
<rect x="753" y="214" width="1" height="6" fill="#002248"/>
<rect x="753" y="257" width="1" height="3" fill="#002248"/>
<rect x="753" y="220" width="1" height="37" fill="#dadada"/>
<rect x="756" y="205" width="3" height="6" fill="#16345a"/>
<rect x="757" y="198" width="1" height="8" fill="#002248"/>
<rect x="757" y="210" width="1" height="8" fill="#002248"/>
<rect x="757" y="206" width="1" height="4" fill="#dadada"/>
<rect x="761" y="191" width="3" height="13" fill="#16345a"/>
<rect x="762" y="189" width="1" height="3" fill="#002248"/>
<rect x="762" y="203" width="1" height="14" fill="#002248"/>
<rect x="762" y="192" width="1" height="11" fill="#dadada"/>
<rect x="766" y="165" width="3" height="26" fill="#16345a"/>
<rect x="767" y="165" width="1" height="1" fill="#002248"/>
<rect x="767" y="190" width="1" height="5" fill="#002248"/>
<rect x="767" y="166" width="1" height="24" fill="#dadada"/>
<rect x="771" y="154" width="1" height="36" fill="#002248"/>
<rect x="770" y="166" width="3" height="19" fill="#002248"/>
<rect x="771" y="167" width="1" height="17" fill="#14335a"/>
<rect x="775" y="187" width="3" height="11" fill="#16345a"/>
<rect x="776" y="174" width="1" height="14" fill="#002248"/>
<rect x="776" y="197" width="1" height="44" fill="#002248"/>
<rect x="776" y="188" width="1" height="9" fill="#dadada"/>
<rect x="780" y="164" width="3" height="18" fill="#16345a"/>
<rect x="781" y="152" width="1" height="13" fill="#002248"/>
<rect x="781" y="181" width="1" height="20" fill="#002248"/>
<rect x="781" y="165" width="1" height="16" fill="#dadada"/>
<rect x="784" y="160" width="3" height="4" fill="#16345a"/>
<rect x="785" y="149" width="1" height="12" fill="#002248"/>
<rect x="785" y="163" width="1" height="10" fill="#002248"/>
<rect x="785" y="161" width="1" height="2" fill="#dadada"/>
<rect x="790" y="155" width="1" height="52" fill="#002248"/>
<rect x="789" y="157" width="3" height="22" fill="#002248"/>
<rect x="790" y="158" width="1" height="20" fill="#14335a"/>
<rect x="794" y="161" width="3" height="22" fill="#16345a"/>
<rect x="795" y="160" width="1" height="2" fill="#002248"/>
<rect x="795" y="182" width="1" height="10" fill="#002248"/>
<rect x="795" y="162" width="1" height="20" fill="#dadada"/>
<rect x="799" y="152" width="3" height="7" fill="#16345a"/>
<rect x="800" y="144" width="1" height="9" fill="#002248"/>
<rect x="800" y="158" width="1" height="2" fill="#002248"/>
<rect x="800" y="153" width="1" height="5" fill="#dadada"/>
<rect x="804" y="149" width="1" height="37" fill="#002248"/>
<rect x="803" y="156" width="3" height="30" fill="#002248"/>
<rect x="804" y="157" width="1" height="28" fill="#14335a"/>
<rect x="809" y="152" width="1" height="64" fill="#002248"/>
<rect x="808" y="176" width="3" height="13" fill="#002248"/>
<rect x="809" y="177" width="1" height="11" fill="#14335a"/>
<rect x="814" y="182" width="1" height="42" fill="#002248"/>
<rect x="813" y="194" width="3" height="30" fill="#002248"/>
<rect x="814" y="195" width="1" height="28" fill="#14335a"/>
<rect x="817" y="188" width="3" height="30" fill="#16345a"/>
<rect x="818" y="177" width="1" height="12" fill="#002248"/>
<rect x="818" y="217" width="1" height="4" fill="#002248"/>
<rect x="818" y="189" width="1" height="28" fill="#dadada"/>
<rect x="823" y="173" width="1" height="24" fill="#002248"/>
<rect x="822" y="188" width="3" height="7" fill="#002248"/>
<rect x="823" y="189" width="1" height="5" fill="#14335a"/>
<rect x="828" y="188" width="1" height="41" fill="#002248"/>
<rect x="827" y="192" width="3" height="7" fill="#002248"/>
<rect x="828" y="193" width="1" height="5" fill="#14335a"/>
<rect x="832" y="174" width="3" height="24" fill="#16345a"/>
<rect x="833" y="173" width="1" height="2" fill="#002248"/>
<rect x="833" y="197" width="1" height="9" fill="#002248"/>
<rect x="833" y="175" width="1" height="22" fill="#dadada"/>
<rect x="836" y="144" width="3" height="22" fill="#16345a"/>
<rect x="837" y="132" width="1" height="13" fill="#002248"/>
<rect x="837" y="165" width="1" height="1" fill="#002248"/>
<rect x="837" y="145" width="1" height="20" fill="#dadada"/>
<rect x="842" y="136" width="1" height="33" fill="#002248"/>
<rect x="841" y="141" width="3" height="20" fill="#002248"/>
<rect x="842" y="142" width="1" height="18" fill="#14335a"/>
<rect x="847" y="152" width="1" height="19" fill="#002248"/>
<rect x="846" y="153" width="3" height="2" fill="#002248"/>
<rect x="850" y="138" width="3" height="18" fill="#16345a"/>
<rect x="851" y="137" width="1" height="2" fill="#002248"/>
<rect x="851" y="155" width="1" height="4" fill="#002248"/>
<rect x="851" y="139" width="1" height="16" fill="#dadada"/>
<rect x="855" y="129" width="3" height="7" fill="#16345a"/>
<rect x="856" y="120" width="1" height="10" fill="#002248"/>
<rect x="856" y="135" width="1" height="3" fill="#002248"/>
<rect x="856" y="130" width="1" height="5" fill="#dadada"/>
<rect x="860" y="123" width="3" height="8" fill="#16345a"/>
<rect x="861" y="115" width="1" height="9" fill="#002248"/>
<rect x="861" y="130" width="1" height="4" fill="#002248"/>
<rect x="861" y="124" width="1" height="6" fill="#dadada"/>
<rect x="865" y="122" width="1" height="30" fill="#002248"/>
<rect x="864" y="126" width="3" height="26" fill="#002248"/>
<rect x="865" y="127" width="1" height="24" fill="#14335a"/>
<rect x="870" y="159" width="1" height="22" fill="#002248"/>
<rect x="869" y="159" width="3" height="20" fill="#002248"/>
<rect x="870" y="160" width="1" height="18" fill="#14335a"/>
<rect x="874" y="158" width="3" height="26" fill="#16345a"/>
<rect x="875" y="157" width="1" height="2" fill="#002248"/>
<rect x="875" y="183" width="1" height="2" fill="#002248"/>
<rect x="875" y="159" width="1" height="24" fill="#dadada"/>
<rect x="880" y="144" width="1" height="16" fill="#002248"/>
<rect x="879" y="152" width="3" height="3" fill="#002248"/>
<rect x="880" y="153" width="1" height="1" fill="#14335a"/>
<rect x="883" y="151" width="3" height="6" fill="#16345a"/>
<rect x="884" y="144" width="1" height="8" fill="#002248"/>
<rect x="884" y="156" width="1" height="6" fill="#002248"/>
<rect x="884" y="152" width="1" height="4" fill="#dadada"/>
<rect x="888" y="149" width="3" height="5" fill="#16345a"/>
<rect x="889" y="140" width="1" height="10" fill="#002248"/>
<rect x="889" y="153" width="1" height="12" fill="#002248"/>
<rect x="889" y="150" width="1" height="3" fill="#dadada"/>
<rect x="894" y="147" width="1" height="22" fill="#002248"/>
<rect x="893" y="147" width="3" height="2" fill="#002248"/>
<rect x="897" y="143" width="3" height="7" fill="#16345a"/>
<rect x="898" y="133" width="1" height="11" fill="#002248"/>
<rect x="898" y="149" width="1" height="4" fill="#002248"/>
<rect x="898" y="144" width="1" height="5" fill="#dadada"/>
<rect x="903" y="126" width="1" height="39" fill="#002248"/>
<rect x="902" y="143" width="3" height="20" fill="#002248"/>
<rect x="903" y="144" width="1" height="18" fill="#14335a"/>
<rect x="907" y="109" width="3" height="58" fill="#16345a"/>
<rect x="908" y="108" width="1" height="2" fill="#002248"/>
<rect x="908" y="166" width="1" height="8" fill="#002248"/>
<rect x="908" y="110" width="1" height="56" fill="#dadada"/>
<rect x="911" y="93" width="3" height="15" fill="#16345a"/>
<rect x="912" y="91" width="1" height="3" fill="#002248"/>
<rect x="912" y="107" width="1" height="8" fill="#002248"/>
<rect x="912" y="94" width="1" height="13" fill="#dadada"/>
<rect x="917" y="84" width="1" height="35" fill="#002248"/>
<rect x="916" y="94" width="3" height="17" fill="#002248"/>
<rect x="917" y="95" width="1" height="15" fill="#14335a"/>
<rect x="921" y="101" width="3" height="8" fill="#16345a"/>
<rect x="922" y="96" width="1" height="6" fill="#002248"/>
<rect x="922" y="108" width="1" height="21" fill="#002248"/>
<rect x="922" y="102" width="1" height="6" fill="#dadada"/>
<rect x="927" y="98" width="1" height="31" fill="#002248"/>
<rect x="926" y="103" width="3" height="24" fill="#002248"/>
<rect x="927" y="104" width="1" height="22" fill="#14335a"/>
<rect x="930" y="92" width="3" height="38" fill="#16345a"/>
<rect x="931" y="91" width="1" height="2" fill="#002248"/>
<rect x="931" y="129" width="1" height="7" fill="#002248"/>
<rect x="931" y="93" width="1" height="36" fill="#dadada"/>
<rect x="936" y="70" width="1" height="49" fill="#002248"/>
<rect x="935" y="86" width="3" height="30" fill="#002248"/>
<rect x="936" y="87" width="1" height="28" fill="#14335a"/>
<rect x="941" y="112" width="1" height="71" fill="#002248"/>
<rect x="940" y="121" width="3" height="39" fill="#002248"/>
<rect x="941" y="122" width="1" height="37" fill="#14335a"/>
<rect x="945" y="153" width="1" height="43" fill="#002248"/>
<rect x="944" y="160" width="3" height="34" fill="#002248"/>
<rect x="945" y="161" width="1" height="32" fill="#14335a"/>
<rect x="950" y="181" width="1" height="81" fill="#002248"/>
<rect x="949" y="189" width="3" height="64" fill="#002248"/>
<rect x="950" y="190" width="1" height="62" fill="#14335a"/>
<rect x="954" y="220" width="3" height="22" fill="#16345a"/>
<rect x="955" y="207" width="1" height="14" fill="#002248"/>
<rect x="955" y="241" width="1" height="55" fill="#002248"/>
<rect x="955" y="221" width="1" height="20" fill="#dadada"/>
<rect x="959" y="215" width="1" height="32" fill="#002248"/>
<rect x="958" y="221" width="3" height="18" fill="#002248"/>
<rect x="959" y="222" width="1" height="16" fill="#14335a"/>
<rect x="964" y="236" width="1" height="87" fill="#002248"/>
<rect x="963" y="245" width="3" height="74" fill="#002248"/>
<rect x="964" y="246" width="1" height="72" fill="#14335a"/>
<rect x="969" y="323" width="1" height="55" fill="#002248"/>
<rect x="968" y="323" width="3" height="33" fill="#002248"/>
<rect x="969" y="324" width="1" height="31" fill="#14335a"/>
<rect x="973" y="320" width="3" height="27" fill="#16345a"/>
<rect x="974" y="319" width="1" height="2" fill="#002248"/>
<rect x="974" y="346" width="1" height="6" fill="#002248"/>
<rect x="974" y="321" width="1" height="25" fill="#dadada"/>
<rect x="978" y="298" width="1" height="56" fill="#002248"/>
<rect x="977" y="302" width="3" height="49" fill="#002248"/>
<rect x="978" y="303" width="1" height="47" fill="#14335a"/>
<rect x="983" y="334" width="1" height="22" fill="#002248"/>
<rect x="982" y="353" width="3" height="3" fill="#002248"/>
<rect x="983" y="354" width="1" height="1" fill="#14335a"/>
<rect x="988" y="345" width="1" height="42" fill="#002248"/>
<rect x="987" y="355" width="3" height="31" fill="#002248"/>
<rect x="988" y="356" width="1" height="29" fill="#14335a"/>
<rect x="991" y="377" width="3" height="15" fill="#16345a"/>
<rect x="992" y="370" width="1" height="8" fill="#002248"/>
<rect x="992" y="391" width="1" height="4" fill="#002248"/>
<rect x="992" y="378" width="1" height="13" fill="#dadada"/>
<rect x="997" y="368" width="1" height="21" fill="#002248"/>
<rect x="996" y="373" width="3" height="2" fill="#002248"/>
<rect x="1001" y="348" width="3" height="21" fill="#16345a"/>
<rect x="1002" y="346" width="1" height="3" fill="#002248"/>
<rect x="1002" y="368" width="1" height="4" fill="#002248"/>
<rect x="1002" y="349" width="1" height="19" fill="#dadada"/>
<rect x="1006" y="332" width="3" height="22" fill="#16345a"/>
<rect x="1007" y="330" width="1" height="3" fill="#002248"/>
<rect x="1007" y="353" width="1" height="1" fill="#002248"/>
<rect x="1007" y="333" width="1" height="20" fill="#dadada"/>
<rect x="1010" y="326" width="3" height="10" fill="#16345a"/>
<rect x="1011" y="325" width="1" height="2" fill="#002248"/>
<rect x="1011" y="335" width="1" height="16" fill="#002248"/>
<rect x="1011" y="327" width="1" height="8" fill="#dadada"/>
<rect x="1015" y="356" width="3" height="17" fill="#16345a"/>
<rect x="1016" y="352" width="1" height="5" fill="#002248"/>
<rect x="1016" y="372" width="1" height="11" fill="#002248"/>
<rect x="1016" y="357" width="1" height="15" fill="#dadada"/>
<rect x="1020" y="349" width="3" height="8" fill="#16345a"/>
<rect x="1021" y="335" width="1" height="15" fill="#002248"/>
<rect x="1021" y="356" width="1" height="1" fill="#002248"/>
<rect x="1021" y="350" width="1" height="6" fill="#dadada"/>
<rect x="1024" y="332" width="3" height="22" fill="#16345a"/>
<rect x="1025" y="319" width="1" height="14" fill="#002248"/>
<rect x="1025" y="353" width="1" height="3" fill="#002248"/>
<rect x="1025" y="333" width="1" height="20" fill="#dadada"/>
<rect x="1029" y="328" width="3" height="6" fill="#16345a"/>
<rect x="1030" y="324" width="1" height="5" fill="#002248"/>
<rect x="1030" y="333" width="1" height="4" fill="#002248"/>
<rect x="1030" y="329" width="1" height="4" fill="#dadada"/>
<rect x="1035" y="316" width="1" height="24" fill="#002248"/>
<rect x="1034" y="322" width="3" height="12" fill="#002248"/>
<rect x="1035" y="323" width="1" height="10" fill="#14335a"/>
<rect x="1039" y="329" width="1" height="27" fill="#002248"/>
<rect x="1038" y="330" width="3" height="16" fill="#002248"/>
<rect x="1039" y="331" width="1" height="14" fill="#14335a"/>
<rect x="1043" y="308" width="3" height="36" fill="#16345a"/>
<rect x="1044" y="304" width="1" height="5" fill="#002248"/>
<rect x="1044" y="343" width="1" height="3" fill="#002248"/>
<rect x="1044" y="309" width="1" height="34" fill="#dadada"/>
<rect x="1048" y="293" width="3" height="13" fill="#16345a"/>
<rect x="1049" y="278" width="1" height="16" fill="#002248"/>
<rect x="1049" y="305" width="1" height="6" fill="#002248"/>
<rect x="1049" y="294" width="1" height="11" fill="#dadada"/>
<rect x="1053" y="289" width="3" height="8" fill="#16345a"/>
<rect x="1054" y="284" width="1" height="6" fill="#002248"/>
<rect x="1054" y="296" width="1" height="9" fill="#002248"/>
<rect x="1054" y="290" width="1" height="6" fill="#dadada"/>
<rect x="1057" y="267" width="3" height="16" fill="#16345a"/>
<rect x="1058" y="265" width="1" height="3" fill="#002248"/>
<rect x="1058" y="282" width="1" height="5" fill="#002248"/>
<rect x="1058" y="268" width="1" height="14" fill="#dadada"/>
<rect x="1063" y="262" width="1" height="11" fill="#002248"/>
<rect x="1062" y="268" width="3" height="2" fill="#002248"/>
<rect x="1068" y="268" width="1" height="14" fill="#002248"/>
<rect x="1067" y="269" width="3" height="8" fill="#002248"/>
<rect x="1068" y="270" width="1" height="6" fill="#14335a"/>
<rect x="1072" y="263" width="1" height="38" fill="#002248"/>
<rect x="1071" y="277" width="3" height="15" fill="#002248"/>
<rect x="1072" y="278" width="1" height="13" fill="#14335a"/>
<rect x="1076" y="282" width="3" height="10" fill="#16345a"/>
<rect x="1077" y="278" width="1" height="5" fill="#002248"/>
<rect x="1077" y="291" width="1" height="6" fill="#002248"/>
<rect x="1077" y="283" width="1" height="8" fill="#dadada"/>
<rect x="1082" y="287" width="1" height="32" fill="#002248"/>
<rect x="1081" y="297" width="3" height="13" fill="#002248"/>
<rect x="1082" y="298" width="1" height="11" fill="#14335a"/>
<rect x="1086" y="318" width="1" height="18" fill="#002248"/>
<rect x="1085" y="320" width="3" height="15" fill="#002248"/>
<rect x="1086" y="321" width="1" height="13" fill="#14335a"/>
<rect x="1091" y="335" width="1" height="21" fill="#002248"/>
<rect x="1090" y="341" width="3" height="15" fill="#002248"/>
<rect x="1091" y="342" width="1" height="13" fill="#14335a"/>
<rect x="1096" y="351" width="1" height="24" fill="#002248"/>
<rect x="1095" y="354" width="3" height="21" fill="#002248"/>
<rect x="1096" y="355" width="1" height="19" fill="#14335a"/>
<rect x="1100" y="355" width="3" height="19" fill="#16345a"/>
<rect x="1101" y="352" width="1" height="4" fill="#002248"/>
<rect x="1101" y="373" width="1" height="6" fill="#002248"/>
<rect x="1101" y="356" width="1" height="17" fill="#dadada"/>
<rect x="1105" y="341" width="1" height="19" fill="#002248"/>
<rect x="1104" y="350" width="3" height="7" fill="#002248"/>
<rect x="1105" y="351" width="1" height="5" fill="#14335a"/>
<rect x="1109" y="342" width="3" height="16" fill="#16345a"/>
<rect x="1110" y="332" width="1" height="11" fill="#002248"/>
<rect x="1110" y="357" width="1" height="1" fill="#002248"/>
<rect x="1110" y="343" width="1" height="14" fill="#dadada"/>
<rect x="1114" y="318" width="3" height="24" fill="#16345a"/>
<rect x="1115" y="316" width="1" height="3" fill="#002248"/>
<rect x="1115" y="341" width="1" height="3" fill="#002248"/>
<rect x="1115" y="319" width="1" height="22" fill="#dadada"/>
<rect x="1119" y="300" width="1" height="32" fill="#002248"/>
<rect x="1118" y="302" width="3" height="25" fill="#002248"/>
<rect x="1119" y="303" width="1" height="23" fill="#14335a"/>
<rect x="1123" y="312" width="3" height="20" fill="#16345a"/>
<rect x="1124" y="306" width="1" height="7" fill="#002248"/>
<rect x="1124" y="331" width="1" height="6" fill="#002248"/>
<rect x="1124" y="313" width="1" height="18" fill="#dadada"/>
<rect x="1129" y="302" width="1" height="15" fill="#002248"/>
<rect x="1128" y="310" width="3" height="1" fill="#002248"/>
<rect x="1133" y="297" width="3" height="12" fill="#16345a"/>
<rect x="1134" y="290" width="1" height="8" fill="#002248"/>
<rect x="1134" y="308" width="1" height="1" fill="#002248"/>
<rect x="1134" y="298" width="1" height="10" fill="#dadada"/>
<rect x="1138" y="296" width="1" height="33" fill="#002248"/>
<rect x="1137" y="298" width="3" height="27" fill="#002248"/>
<rect x="1138" y="299" width="1" height="25" fill="#14335a"/>
<rect x="1143" y="330" width="1" height="18" fill="#002248"/>
<rect x="1142" y="338" width="3" height="1" fill="#002248"/>
<rect x="1147" y="327" width="3" height="16" fill="#16345a"/>
<rect x="1148" y="323" width="1" height="5" fill="#002248"/>
<rect x="1148" y="342" width="1" height="9" fill="#002248"/>
<rect x="1148" y="328" width="1" height="14" fill="#dadada"/>
<rect x="1152" y="300" width="1" height="23" fill="#002248"/>
<rect x="1151" y="319" width="3" height="4" fill="#002248"/>
<rect x="1152" y="320" width="1" height="2" fill="#14335a"/>
<rect x="1156" y="312" width="3" height="5" fill="#16345a"/>
<rect x="1157" y="305" width="1" height="8" fill="#002248"/>
<rect x="1157" y="316" width="1" height="12" fill="#002248"/>
<rect x="1157" y="313" width="1" height="3" fill="#dadada"/>
<rect x="1161" y="290" width="3" height="30" fill="#16345a"/>
<rect x="1162" y="286" width="1" height="5" fill="#002248"/>
<rect x="1162" y="319" width="1" height="1" fill="#002248"/>
<rect x="1162" y="291" width="1" height="28" fill="#dadada"/>
<rect x="1165" y="284" width="3" height="5" fill="#16345a"/>
<rect x="1166" y="272" width="1" height="13" fill="#002248"/>
<rect x="1166" y="288" width="1" height="2" fill="#002248"/>
<rect x="1166" y="285" width="1" height="3" fill="#dadada"/>
<rect x="1171" y="285" width="1" height="18" fill="#002248"/>
<rect x="1170" y="290" width="3" height="13" fill="#002248"/>
<rect x="1171" y="291" width="1" height="11" fill="#14335a"/>
<rect x="1176" y="290" width="1" height="18" fill="#002248"/>
<rect x="1175" y="302" width="3" height="3" fill="#002248"/>
<rect x="1176" y="303" width="1" height="1" fill="#14335a"/>
<rect x="1180" y="284" width="3" height="19" fill="#16345a"/>
<rect x="1181" y="282" width="1" height="3" fill="#002248"/>
<rect x="1181" y="302" width="1" height="5" fill="#002248"/>
<rect x="1181" y="285" width="1" height="17" fill="#dadada"/>
<rect x="1184" y="276" width="3" height="4" fill="#16345a"/>
<rect x="1185" y="270" width="1" height="7" fill="#002248"/>
<rect x="1185" y="279" width="1" height="16" fill="#002248"/>
<rect x="1185" y="277" width="1" height="2" fill="#dadada"/>
<rect x="1189" y="268" width="3" height="10" fill="#16345a"/>
<rect x="1190" y="251" width="1" height="18" fill="#002248"/>
<rect x="1190" y="277" width="1" height="2" fill="#002248"/>
<rect x="1190" y="269" width="1" height="8" fill="#dadada"/>
<rect x="1194" y="240" width="3" height="24" fill="#16345a"/>
<rect x="1195" y="239" width="1" height="2" fill="#002248"/>
<rect x="1195" y="263" width="1" height="3" fill="#002248"/>
<rect x="1195" y="241" width="1" height="22" fill="#dadada"/>
<rect x="1199" y="232" width="1" height="22" fill="#002248"/>
<rect x="1198" y="237" width="3" height="8" fill="#002248"/>
<rect x="1199" y="238" width="1" height="6" fill="#14335a"/>
<rect x="1203" y="234" width="3" height="5" fill="#16345a"/>
<rect x="1204" y="227" width="1" height="8" fill="#002248"/>
<rect x="1204" y="238" width="1" height="3" fill="#002248"/>
<rect x="1204" y="235" width="1" height="3" fill="#dadada"/>
<rect x="1208" y="230" width="3" height="5" fill="#16345a"/>
<rect x="1209" y="226" width="1" height="5" fill="#002248"/>
<rect x="1209" y="234" width="1" height="7" fill="#002248"/>
<rect x="1209" y="231" width="1" height="3" fill="#dadada"/>
</svg>
<div class="lg" style="left:5px;top:6px;font-size:12px;line-height:14px;color:#555">1W</div>
<div class="lg" style="left:35px;top:5px;width:16px;height:16px;background:#e49f27;color:#fff;font-weight:bold;font-size:9px;line-height:16px;letter-spacing:-0.6px;text-indent:-0.6px;text-align:center">EQ</div>
<div class="lg" style="left:55px;top:6px;font-size:12px;line-height:14px;color:#333">NVDA:xnas</div>
<div class="ax" style="left:1px;top:668px">Q4</div>
<div class="ax" style="left:20px;top:668px">Q1</div>
<div class="ax" style="left:81px;top:668px">Q2</div>
<div class="ax" style="left:142px;top:668px">Q3</div>
<div class="ax" style="left:203px;top:668px">Q4</div>
<div class="ax" style="left:264px;top:668px">Q1</div>
<div class="ax" style="left:326px;top:668px">Q2</div>
<div class="ax" style="left:387px;top:668px">Q3</div>
<div class="ax" style="left:448px;top:668px">Q4</div>
<div class="ax" style="left:509px;top:668px">Q1</div>
<div class="ax" style="left:570px;top:668px">Q2</div>
<div class="ax" style="left:631px;top:668px">Q3</div>
<div class="ax" style="left:692px;top:668px">Q4</div>
<div class="ax" style="left:754px;top:668px">Q1</div>
<div class="ax" style="left:815px;top:668px">Q2</div>
<div class="ax" style="left:876px;top:668px">Q3</div>
<div class="ax" style="left:937px;top:668px">Q4</div>
<div class="ax" style="left:1003px;top:668px">Q1</div>
<div class="ax" style="left:1059px;top:668px">Q2</div>
<div class="ax" style="left:1120px;top:668px">Q3</div>
<div class="ax" style="left:1186px;top:668px">Q4</div>
<div class="ax yr" style="left:110px;top:681px">2015</div>
<div class="ax yr" style="left:354.5px;top:681px">2016</div>
<div class="ax yr" style="left:599.5px;top:681px">2017</div>
<div class="ax yr" style="left:846.5px;top:681px">2018</div>
<div class="ax yr" style="left:1109px;top:681px">2019</div>
<div class="ax" style="left:1px;top:681px">114</div>
<div class="ya" style="top:51px">300.00</div>
<div class="ya" style="top:147px">250.00</div>
<div class="ya" style="top:244px">200.00</div>
<div class="ya" style="top:341px">150.00</div>
<div class="ya" style="top:437px">100.00</div>
<div class="ya" style="top:534px">50.00</div>
<div class="ya" style="top:631px">0.00</div>
<div class="box"></div>
<div class="bt" style="left:25px;top:527px">Monday, November 11, 2019</div>
<div class="bt" style="left:25px;top:545px;font-weight:bold">NVDA:xnas</div>
<div class="bt" style="left:25px;top:562px">Open</div>
<div class="bt" style="left:25px;top:576px">High</div>
<div class="bt" style="left:25px;top:590px">Low</div>
<div class="bt" style="left:25px;top:604px">Close</div>
<div class="bt r" style="left:105px;top:562px">207.75</div>
<div class="bt r" style="left:105px;top:576px">211.86</div>
<div class="bt r" style="left:105px;top:590px">204.28</div>
<div class="bt r" style="left:105px;top:604px">209.79</div>
<div class="ax" style="left:15px;top:655px">Indicative price. Prices delayed by 15 minutes</div>
<svg width="1275" height="690" style="pointer-events:none;shape-rendering:auto"><path d="M1237.5 230.5 L1240 227.5 L1240 233.5 Z" fill="#3498db"/><rect x="1240" y="223.5" width="32" height="14" fill="#3498db"/></svg>
<div class="lg" style="left:1240px;top:223px;width:32px;height:15px;color:#fff;font-size:10px;line-height:15px;text-align:center">209.79</div>
</body></html>
